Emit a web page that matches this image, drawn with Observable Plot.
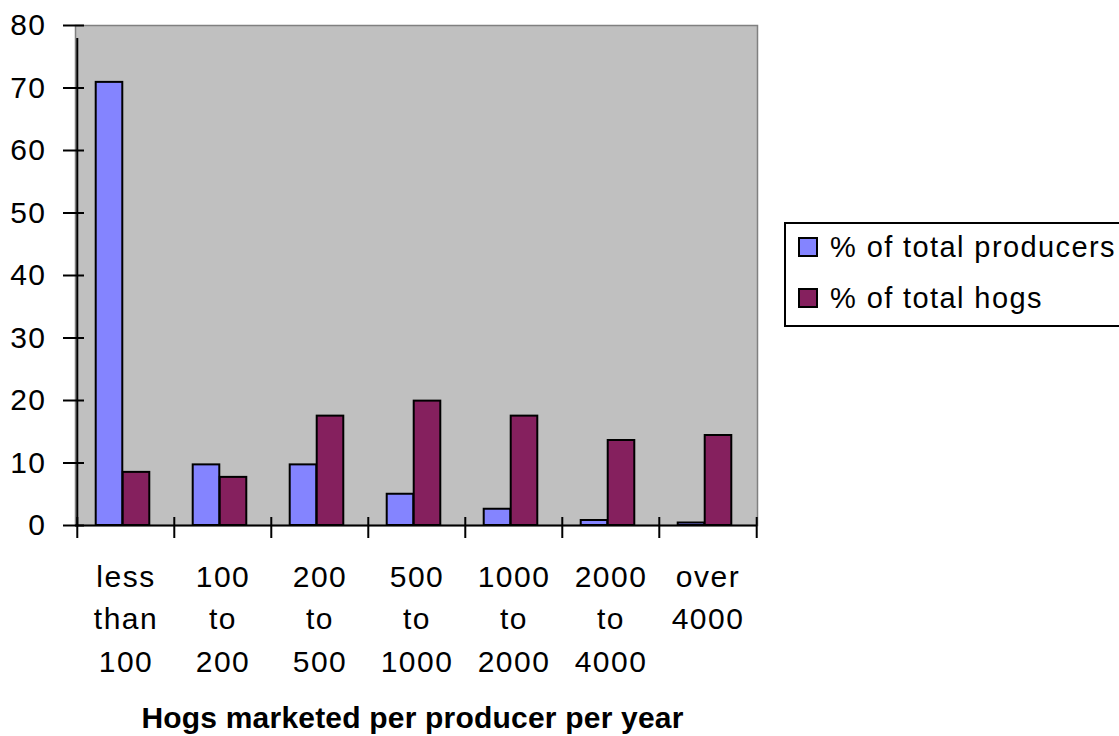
<!DOCTYPE html>
<html><head><meta charset="utf-8">
<script src="https://cdn.jsdelivr.net/npm/d3@7"></script>
<script src="https://cdn.jsdelivr.net/npm/@observablehq/plot@0.6"></script>
<style>
html,body{margin:0;padding:0;background:#fff;overflow:hidden;}
#wrap{position:relative;width:1119px;height:736px;overflow:hidden;}
#legend{position:absolute;left:784px;top:222px;width:345px;height:105px;border:2px solid #000;box-sizing:border-box;font-family:"Liberation Sans",Arial,sans-serif;font-size:29px;letter-spacing:1.4px;color:#000;background:#fff;}
.item{position:absolute;left:12px;display:flex;align-items:center;height:30px;white-space:nowrap;}
.sw{width:16px;height:16px;border:2px solid #000;margin-right:12px;}
svg g[aria-label="text"] text{letter-spacing:0.2px;}
</style></head><body><div id="wrap"></div>
<script>
const categories = ["less\nthan\n100","100\nto\n200","200\nto\n500","500\nto\n1000","1000\nto\n2000","2000\nto\n4000","over\n4000"];
const producers = [70.9, 9.7, 9.7, 5.0, 2.6, 0.8, 0.4];
const hogs = [8.5, 7.7, 17.5, 19.9, 17.5, 13.6, 14.4];
const seriesNames = ["% of total producers", "% of total hogs"];
const seriesColors = ["#8484ff", "#85205e"];
const yTicks = [0, 10, 20, 30, 40, 50, 60, 70, 80];
const xTitle = "Hogs marketed per producer per year";

const W = 1119, H = 736, mL = 75, mR = 362, mT = 25, mB = 211;
const plotW = W - mL - mR;
const step = plotW / categories.length;

const data = [];
categories.forEach((c, i) => {
  data.push({category: c, series: seriesNames[0], value: producers[i]});
  data.push({category: c, series: seriesNames[1], value: hogs[i]});
});

const font = '"Liberation Sans", Arial, sans-serif';
const chart = Plot.plot({
  width: W, height: H,
  marginLeft: mL, marginRight: mR, marginTop: mT, marginBottom: mB,
  style: {fontFamily: font, fontSize: "30px", letterSpacing: "1.5px", background: "#fff", color: "#000", overflow: "visible"},
  x: {domain: categories, padding: 0, label: null},
  y: {domain: [0, 80], label: null},
  color: {domain: seriesNames, range: seriesColors},
  marks: [
    Plot.frame({fill: "#c0c0c0", stroke: "#808080", strokeWidth: 1.5}),
    Plot.barY(data.filter(d => d.series === seriesNames[0]), {
      x: "category", y: "value", fill: "series", stroke: "#000", strokeWidth: 2,
      insetLeft: step/2 - 30, insetRight: step/2 + 3
    }),
    Plot.barY(data.filter(d => d.series === seriesNames[1]), {
      x: "category", y: "value", fill: "series", stroke: "#000", strokeWidth: 2,
      insetLeft: step/2 - 3, insetRight: step/2 - 24
    }),
    Plot.ruleY([0], {stroke: "#000", strokeWidth: 2}),
    Plot.ruleX([categories[0]], {y1: 0, y2: 80, dx: -step/2, insetBottom: -13, stroke: "#000", strokeWidth: 2}),
    Plot.ruleX(categories, {x: d => d, y1: 0, y2: 0, dx: -step/2, insetTop: -8, insetBottom: -13, stroke: "#000", strokeWidth: 2}),
    Plot.ruleX([categories[categories.length - 1]], {x: d => d, y1: 0, y2: 0, dx: step/2, insetTop: -8, insetBottom: -13, stroke: "#000", strokeWidth: 2}),
    Plot.ruleY(yTicks, {y: d => d, insetLeft: -12, insetRight: plotW - 9, stroke: "#000", strokeWidth: 2}),
    Plot.axisY(yTicks, {tickSize: 0, tickPadding: 29, fontSize: 30, label: null}),
    Plot.axisX({tickSize: 0, tickPadding: 31, fontSize: 30, lineHeight: 1.42, label: null}),
    Plot.text([xTitle], {text: d => d, frameAnchor: "bottom", dy: 181, dx: -4, lineAnchor: "top", fontWeight: "bold", fontSize: 30})
  ]
});
const wrap = document.getElementById("wrap");
wrap.appendChild(chart);

const legend = document.createElement("div");
legend.id = "legend";
seriesNames.forEach((name, i) => {
  const item = document.createElement("div");
  item.className = "item";
  item.style.top = (i === 0 ? 8 : 59) + "px";
  const sw = document.createElement("span");
  sw.className = "sw";
  sw.style.background = seriesColors[i];
  const t = document.createElement("span");
  t.textContent = name;
  item.appendChild(sw);
  item.appendChild(t);
  legend.appendChild(item);
});
wrap.appendChild(legend);
</script>
</body></html>
